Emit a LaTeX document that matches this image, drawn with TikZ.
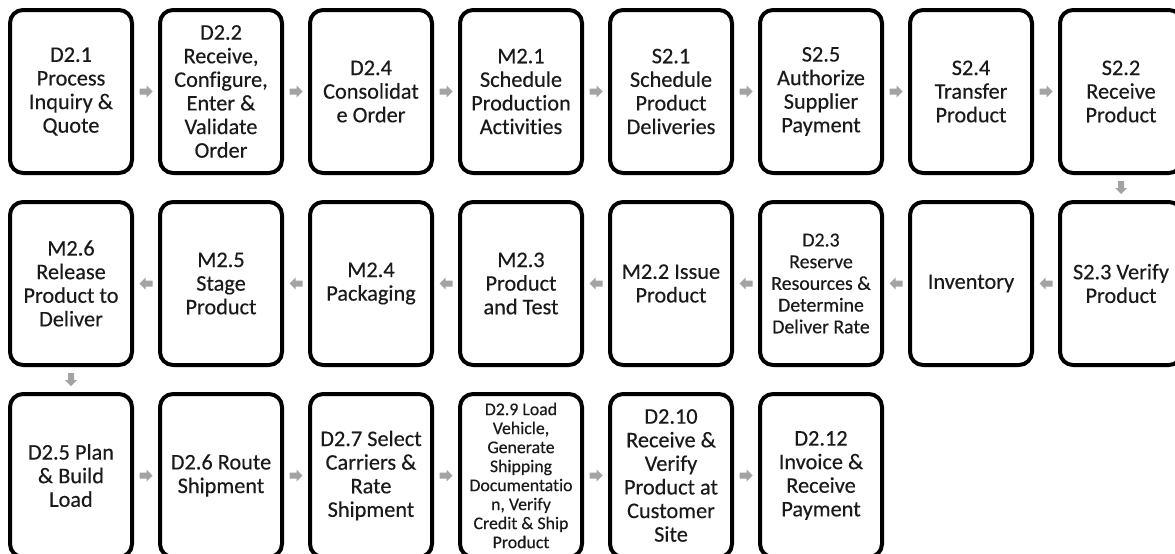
\documentclass[tikz,border=0pt]{standalone}
\usepackage{fontspec}
\setmainfont{Carlito}[Ligatures=NoCommon,UprightFeatures={FakeBold=0.3}]
\usetikzlibrary{calc}
\definecolor{arrowgray}{HTML}{A3A3A3}
\definecolor{txtgray}{HTML}{1A1A1A}
\tikzset{
  procbox/.style={draw=black, line width=4pt, rounded corners=13pt, fill=white,
    minimum width=122pt, minimum height=163pt, inner sep=0pt, align=center,
    text=txtgray, font=\fontsize{22.3}{23.6}\selectfont},
  smalltext/.style={font=\fontsize{19.8}{21.7}\selectfont},
  tinytext/.style={font=\fontsize{17.8}{19}\selectfont},
  blockarrow/.pic={\fill[arrowgray] (-6.5,-3) -- (0.5,-3) -- (0.5,-6) -- (6.5,0) -- (0.5,6) -- (0.5,3) -- (-6.5,3) -- cycle;}
}
\begin{document}
\begin{tikzpicture}[x=1pt,y=-1pt]
\useasboundingbox (0,0) rectangle (1175,554);
\clip (0,0) rectangle (1175,554);
% row 1
\node[procbox] (a1) at (71,91.5) {D2.1\\Process\\Inquiry \&\\Quote};
\node[procbox] (a2) at (221,91.5) {D2.2\\Receive,\\Configure,\\Enter \&\\Validate\\Order};
\node[procbox] (a3) at (371,91.5) {D2.4\\Consolidat\\e Order};
\node[procbox] (a4) at (521,91.5) {M2.1\\Schedule\\Production\\Activities};
\node[procbox] (a5) at (671,91.5) {S2.1\\Schedule\\Product\\Deliveries};
\node[procbox] (a6) at (821,91.5) {S2.5\\Authorize\\Supplier\\Payment};
\node[procbox] (a7) at (971,91.5) {S2.4\\Transfer\\Product};
\node[procbox] (a8) at (1121,91.5) {S2.2\\Receive\\Product};
% row 2
\node[procbox] (b1) at (71,283.5) {M2.6\\Release\\Product to\\Deliver};
\node[procbox] (b2) at (221,283.5) {M2.5\\Stage\\Product};
\node[procbox] (b3) at (371,283.5) {M2.4\\Packaging};
\node[procbox] (b4) at (521,283.5) {M2.3\\Product\\and Test};
\node[procbox] (b5) at (671,283.5) {M2.2 Issue\\Product};
\node[procbox,smalltext] (b6) at (821,283.5) {D2.3\\Reserve\\Resources \&\\Determine\\Deliver Rate};
\node[procbox] (b7) at (971,283.5) {Inventory};
\node[procbox] (b8) at (1121,283.5) {S2.3 Verify\\Product};
% row 3
\node[procbox] (c1) at (71,475.5) {D2.5 Plan\\\& Build\\Load};
\node[procbox] (c2) at (221,475.5) {D2.6 Route\\Shipment};
\node[procbox] (c3) at (371,475.5) {D2.7 Select\\Carriers \&\\Rate\\Shipment};
\node[procbox,tinytext] (c4) at (521,475.5) {D2.9 Load\\Vehicle,\\Generate\\Shipping\\Documentatio\\n, Verify\\Credit \& Ship\\Product};
\node[procbox] (c5) at (671,475.5) {D2.10\\Receive \&\\Verify\\Product at\\Customer\\Site};
\node[procbox] (c6) at (821,475.5) {D2.12\\Invoice \&\\Receive\\Payment};
% connectors row 1 (right)
\foreach \p/\q in {a1/a2,a2/a3,a3/a4,a4/a5,a5/a6,a6/a7,a7/a8}
  \pic at ($(\p.east)!0.5!(\q.west)$) {blockarrow};
% down a8 -> b8
\pic[rotate=-90] at ($(a8.south)!0.5!(b8.north)$) {blockarrow};
% connectors row 2 (left)
\foreach \p/\q in {b8/b7,b7/b6,b6/b5,b5/b4,b4/b3,b3/b2,b2/b1}
  \pic[rotate=180] at ($(\p.west)!0.5!(\q.east)$) {blockarrow};
% down b1 -> c1
\pic[rotate=-90] at ($(b1.south)!0.5!(c1.north)$) {blockarrow};
% connectors row 3 (right)
\foreach \p/\q in {c1/c2,c2/c3,c3/c4,c4/c5,c5/c6}
  \pic at ($(\p.east)!0.5!(\q.west)$) {blockarrow};
\end{tikzpicture}
\end{document}
